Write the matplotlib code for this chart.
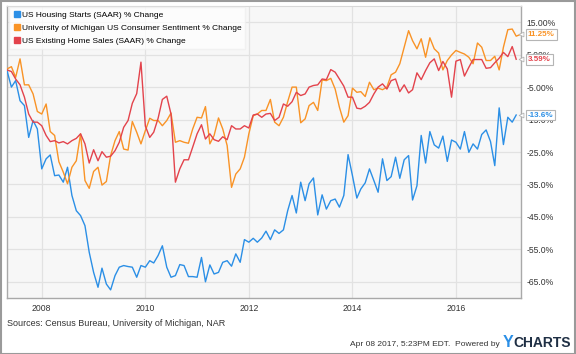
import matplotlib.pyplot as plt
import matplotlib.dates as mdates
import numpy as np
import pandas as pd
from matplotlib.lines import Line2D
from matplotlib.patches import Rectangle

plt.rcParams['font.family'] = ['Liberation Sans', 'DejaVu Sans']

# monthly year-over-year % change, May 2007 onwards
housing_starts = [
    0.1, -5.0, -3.0, -9.2, -10.7, -20.5, -15.3, -17.9, -30.2, -27.1,
    -25.9, -32.3, -32.1, -34.3, -29.7, -38.4, -43.1, -44.6, -47.7, -55.9,
    -62.1, -66.7, -60.8, -65.7, -67.5, -63.1, -60.5, -60.0, -60.3, -60.5,
    -63.6, -60.0, -60.5, -58.5, -59.2, -56.9, -53.9, -60.5, -63.6, -63.1,
    -59.7, -60.0, -63.4, -63.4, -63.6, -57.5, -65.0, -59.8, -62.6, -62.1,
    -59.0, -58.5, -60.2, -56.4, -59.0, -52.0, -52.8, -51.6, -52.8, -51.5,
    -49.4, -52.0, -49.0, -50.1, -49.0, -43.1, -38.4, -43.8, -34.3, -40.0,
    -34.8, -33.0, -44.4, -38.2, -42.6, -40.0, -39.5, -42.0, -38.4, -25.8,
    -32.3, -39.2, -36.4, -34.5, -30.2, -33.8, -37.4, -27.1, -33.8, -32.6,
    -26.6, -33.1, -27.4, -26.1, -39.8, -35.4, -19.9, -28.4, -18.7, -22.8,
    -23.8, -20.1, -27.9, -21.3, -22.0, -24.1, -18.7, -25.1, -22.5, -24.1,
    -19.6, -18.2, -21.8, -29.2, -11.4, -22.7, -14.3, -15.8, -13.6,
]
consumer_sentiment = [
    0.6, 1.3, -2.0, 3.7, -4.3, -4.3, -7.1, -12.5, -13.3, -10.2,
    -18.7, -19.9, -28.0, -31.2, -34.8, -29.7, -27.7, -19.4, -33.8, -36.2,
    -31.0, -29.7, -35.2, -34.1, -26.1, -21.5, -18.7, -24.1, -24.4, -15.6,
    -18.9, -22.5, -18.4, -14.6, -15.3, -15.3, -16.9, -15.3, -13.0, -22.0,
    -21.5, -22.0, -22.3, -17.9, -14.3, -14.5, -11.0, -22.5, -19.9, -14.5,
    -17.9, -23.0, -35.9, -31.8, -30.2, -26.6, -19.4, -13.8, -13.3, -12.2,
    -12.2, -8.8, -15.8, -16.9, -14.3, -9.5, -5.0, -5.0, -16.0, -14.8,
    -10.7, -9.7, -12.2, -2.8, -3.0, -2.3, -5.6, -11.2, -15.8, -13.8,
    -5.3, -6.6, -6.4, -7.9, -3.5, -5.8, -5.3, -5.8, -5.0, -1.2,
    -0.4, 2.2, 7.3, 12.4, 9.3, 6.8, 9.9, 4.2, 10.2, 6.8,
    5.5, 0.3, 3.2, 4.9, 6.3, 5.7, 5.2, 4.2, 2.2, 8.6,
    7.3, 3.2, 3.2, 4.5, 0.3, 7.3, 12.7, 12.9, 10.7, 11.25,
]
existing_home_sales = [
    0.3, -0.2, -2.5, -4.3, -8.1, -13.3, -15.8, -15.8, -16.9, -19.9,
    -21.8, -21.5, -22.2, -21.8, -22.5, -21.5, -20.8, -19.4, -22.5, -28.4,
    -24.3, -27.7, -24.9, -26.6, -26.3, -24.6, -22.0, -17.4, -15.3, -10.0,
    -7.0, 2.7, -17.0, -20.5, -18.9, -14.6, -8.8, -7.8, -13.3, -34.3,
    -30.2, -27.4, -27.4, -23.5, -19.4, -16.6, -21.0, -19.4, -21.2, -21.7,
    -20.3, -21.2, -16.9, -17.9, -17.9, -16.9, -17.6, -13.6, -13.3, -14.3,
    -13.3, -13.1, -15.3, -14.3, -10.2, -10.9, -9.5, -6.6, -7.6, -7.1,
    -5.0, -4.5, -4.3, -2.5, -2.7, 0.4, -0.4, -2.5, -4.7, -8.1,
    -8.1, -11.5, -11.7, -10.9, -9.7, -7.1, -5.0, -4.0, -5.6, -3.0,
    -2.5, -6.4, -4.3, -6.8, -5.8, -0.6, -2.7, 0.1, 2.5, 3.7,
    0.1, 2.9, 0.6, -8.1, 3.0, 3.5, -1.6, 1.1, 3.5, 3.5,
    3.5, 0.8, 1.0, 2.5, 3.9, 5.7, 4.4, 7.5, 3.59,
]

series_names = [
    'US Housing Starts (SAAR) % Change',
    'University of Michigan US Consumer Sentiment % Change',
    'US Existing Home Sales (SAAR) % Change',
]
last_labels = ['-13.6%', '11.25%', '3.59%']
ytick_values = [15, 5, -5, -15, -25, -35, -45, -55, -65]
ytick_labels = ['15.00%', '5.00%', '-5.00%', '-15.0%', '-25.0%', '-35.0%',
                '-45.0%', '-55.0%', '-65.0%']
xtick_years = [2008, 2010, 2012, 2014, 2016]

colors = ['#2b8fe6', '#f99326', '#e3434c']

all_series = [housing_starts, consumer_sentiment, existing_home_sales]

W, H = 576, 354
fig = plt.figure(figsize=(W / 100, H / 100), dpi=100)
ax = fig.add_axes([7 / W, 1 - 298 / H, (521 - 7) / W, (298 - 6) / H])
ax.set_facecolor('#f7f7f7')

for vals, col, name in zip(all_series, colors, series_names):
    dates = pd.date_range('2007-05-01', periods=len(vals), freq='MS')
    ax.plot(dates, vals, color=col, lw=1.0, label=name, zorder=3)

ax.set_xlim(pd.Timestamp('2007-05-01'), pd.Timestamp('2017-04-04'))
ax.set_ylim(-70, 20)

ax.set_yticks(ytick_values)
ax.set_yticklabels(ytick_labels)
ax.yaxis.tick_right()
ax.set_xticks([pd.Timestamp(f'{y}-01-01') for y in xtick_years])
ax.xaxis.set_major_formatter(mdates.DateFormatter('%Y'))
ax.tick_params(axis='both', length=0, labelsize=6.2, colors='#333333')
ax.tick_params(axis='y', pad=4)
ax.tick_params(axis='x', pad=4)
ax.grid(True, color='#e2e2e2', lw=0.9, zorder=0)
ax.set_axisbelow(True)
for side in ['left', 'bottom', 'right']:
    ax.spines[side].set_color('#a9a9a9')
    ax.spines[side].set_linewidth(1.0)
ax.spines['top'].set_color('#d8d8d8')

handles = [Line2D([], [], marker='s', ls='none', color=c, markersize=4.0)
           for c in colors]
leg = ax.legend(handles, series_names, loc='upper left', fontsize=6.0,
                frameon=True, fancybox=False, handletextpad=0.05,
                handlelength=1.0, labelspacing=0.62, borderpad=0.45,
                borderaxespad=0.0, bbox_to_anchor=(0.004, 0.995))
leg.get_frame().set_facecolor('white')
leg.get_frame().set_alpha(0.75)
leg.get_frame().set_edgecolor('#eeeeee')
leg.set_zorder(4)

# last-value boxes on the right axis
for vals, col, lab in zip(all_series, colors, last_labels):
    ax.annotate(lab, xy=(1.0, vals[-1]), xycoords=('axes fraction', 'data'),
                xytext=(5, 0), textcoords='offset points', va='center',
                ha='left', fontsize=5.8, fontweight='bold', color=col,
                annotation_clip=False, zorder=6,
                bbox=dict(boxstyle='square,pad=0.22', fc='white',
                          ec='#b5b5b5', lw=0.8))
    ax.plot([1.0], [vals[-1]], marker='<', ms=3.5, mfc='white', mec='#b5b5b5',
            mew=0.6, transform=ax.get_yaxis_transform(), clip_on=False,
            zorder=5)

fig.text(7 / W, 1 - 324 / H, 'Sources: Census Bureau, University of Michigan, NAR',
         fontsize=6.5, color='#333333', va='center', ha='left')
fig.text(500 / W, 1 - 344 / H, 'Apr 08 2017, 5:23PM EDT.  Powered by',
         fontsize=6, color='#333333', va='center', ha='right')
fig.text(503 / W, 1 - 342.5 / H, 'Y', fontsize=11.5, fontweight='bold',
         color='#2b8fe6', va='center', ha='left')
fig.text(513.5 / W, 1 - 343 / H, 'CHARTS', fontsize=10, fontweight='bold',
         color='#1f2f44', va='center', ha='left')

fig.patches.append(Rectangle((0.5 / W, 0.5 / H), 1 - 1.5 / W, 1 - 1.5 / H,
                             transform=fig.transFigure, fill=False,
                             ec='#9a9a9a', lw=1.5))

fig.savefig('out.png', dpi=100)
